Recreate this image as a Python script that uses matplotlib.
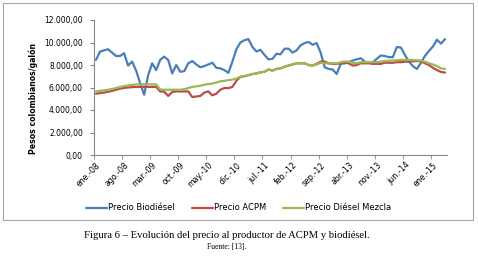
import matplotlib

matplotlib.use("Agg")
import matplotlib.pyplot as plt
from matplotlib.patches import Rectangle
from matplotlib.ticker import FuncFormatter

# monthly series, ene-08 .. abr-15
biodiesel = [8450, 9200, 9300, 9400, 9100, 8800, 8800, 9050, 7950, 8300,
             7500, 6400, 5350, 7100, 8150, 7550, 8450, 8750, 8450, 7250,
             8000, 7400, 7450, 8150, 8350, 8050, 7800, 7900, 8050, 8200,
             7750, 7700, 7550, 7300, 8300, 9400, 10000, 10200, 10300, 9600,
             9200, 9350, 8900, 8500, 8550, 9000, 8950, 9450, 9450, 9100,
             9300, 9750, 9950, 10050, 9800, 9950, 9100, 7800, 7650, 7600,
             7200, 8100, 8150, 8250, 8400, 8500, 8600, 8300, 8200, 8250,
             8550, 8850, 8800, 8700, 8700, 9600, 9550, 8900, 8300, 7900,
             7650, 8200, 8800, 9250, 9650, 10250, 9900, 10300]
acpm = [5450, 5500, 5550, 5620, 5700, 5800, 5900, 5960, 6000, 6030,
        6050, 6050, 6050, 6050, 6050, 6050, 5650, 5620, 5250, 5600,
        5650, 5650, 5650, 5650, 5150, 5200, 5250, 5550, 5650, 5300,
        5450, 5800, 5950, 5950, 6050, 6600, 6950, 7000, 7100, 7200,
        7250, 7350, 7400, 7600, 7500, 7650, 7700, 7850, 7950, 8050,
        8150, 8150, 8150, 8000, 7950, 8100, 8300, 8300, 8150, 8100,
        8100, 8150, 8200, 8150, 7950, 8000, 8150, 8150, 8150, 8100,
        8100, 8100, 8200, 8200, 8200, 8250, 8250, 8300, 8300, 8330,
        8350, 8330, 8150, 8000, 7750, 7550, 7380, 7330]
mezcla = [5650, 5700, 5750, 5800, 5870, 5950, 6050, 6120, 6180, 6230,
          6270, 6280, 6280, 6280, 6280, 6280, 5820, 5800, 5800, 5800,
          5800, 5800, 5850, 5950, 6050, 6100, 6150, 6250, 6300, 6350,
          6450, 6550, 6600, 6650, 6700, 6800, 6950, 7000, 7100, 7200,
          7250, 7350, 7400, 7600, 7500, 7650, 7700, 7850, 7950, 8050,
          8150, 8150, 8150, 8000, 7950, 8050, 8200, 8150, 8150, 8150,
          8150, 8250, 8300, 8300, 8200, 8150, 8250, 8250, 8250, 8250,
          8250, 8300, 8350, 8380, 8400, 8420, 8450, 8450, 8450, 8450,
          8420, 8400, 8300, 8150, 8050, 7900, 7700, 7650]
tick_labels = ["ene.-08", "ago.-08", "mar.-09", "oct.-09", "may.-10", "dic.-10",
               "jul.-11", "feb.-12", "sep.-12", "abr.-13", "nov.-13", "jun.-14",
               "ene.-15"]
series = [
    ("Precio Biodiésel", biodiesel, "#4a7ebb"),
    ("Precio ACPM", acpm, "#be4b48"),
    ("Precio Diésel Mezcla", mezcla, "#98b954"),
]

fig = plt.figure(figsize=(4.78, 2.56), dpi=100)
ax = fig.add_axes([94 / 478, 1 - 155 / 256, 353 / 478, 135 / 256])

x = list(range(len(biodiesel)))
for name, vals, color in series:
    ax.plot(x, vals, color=color, lw=1.6, label=name, solid_capstyle="round")

ax.set_xlim(-0.5, len(x) - 0.5)
ax.set_ylim(0, 12000)
ax.set_yticks(range(0, 12001, 2000))
ax.yaxis.set_major_formatter(FuncFormatter(
    lambda v, _: f"{v:,.2f}".replace(",", "X").replace(".", ",").replace("X", ".")))
ax.set_xticks(range(0, len(x), 7), tick_labels, rotation=45, ha="right",
              rotation_mode="anchor")
ax.set_xticks([p - 0.5 for p in range(0, len(x), 7)], minor=True)
ax.tick_params(axis="x", which="major", length=0, labelsize=5.7, pad=4)
ax.tick_params(axis="x", which="minor", length=3, color="#868686")
ax.tick_params(axis="y", length=3, color="#868686", labelsize=5.5, pad=5)
for side in ("top", "right"):
    ax.spines[side].set_visible(False)
for side in ("left", "bottom"):
    ax.spines[side].set_color("#868686")
    ax.spines[side].set_linewidth(0.8)

fig.text(33 / 478, 1 - 98 / 256, "Pesos colombianos/galón", rotation=90,
         ha="center", va="center", fontsize=5.6, fontweight="bold")

fig.legend(loc="center", bbox_to_anchor=(238.5 / 478, 1 - 208 / 256), ncol=3,
           frameon=False, fontsize=6, handlelength=2.5, handletextpad=0.1,
           columnspacing=2.1)

fig.patches.append(Rectangle((3 / 478, 1 - 220 / 256), 470 / 478, 217 / 256,
                             transform=fig.transFigure, fill=False,
                             edgecolor="#a6a6a6", lw=0.8))

fig.text(227 / 478, 1 - 236 / 256,
         "Figura 6 – Evolución del precio al productor de ACPM y biodiésel.",
         ha="center", va="center", fontsize=7.7, family="Liberation Serif")
fig.text(227 / 478, 1 - 247 / 256, "Fuente: [13].", ha="center", va="center",
         fontsize=5.5, family="Liberation Serif")

fig.savefig("out.png", dpi=100)
